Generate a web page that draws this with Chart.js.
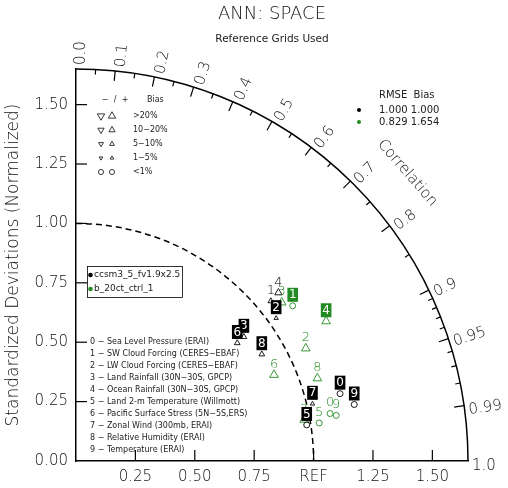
<!DOCTYPE html>
<html>
<head>
<meta charset="utf-8">
<script src="https://cdn.jsdelivr.net/npm/chart.js@4.4.1/dist/chart.umd.min.js"></script>
<style>
  html, body { margin: 0; padding: 0; background: #fff; }
  #wrap { width: 508px; height: 488px; }
</style>
</head>
<body>
<div id="wrap"><canvas id="taylor"></canvas></div>
<script>
// === Data ===
const caseNames = [
  'Sea Level Pressure (ERAI)',
  'SW Cloud Forcing (CERES-EBAF)',
  'LW Cloud Forcing (CERES-EBAF)',
  'Land Rainfall (30N-30S, GPCP)',
  'Ocean Rainfall (30N-30S, GPCP)',
  'Land 2-m Temperature (Willmott)',
  'Pacific Surface Stress (5N-5S,ERS)',
  'Zonal Wind (300mb, ERAI)',
  'Relative Humidity (ERAI)',
  'Temperature (ERAI)'
];
const modelNames = ['ccsm3_5_fv1.9x2.5', 'b_20ct_ctrl_1'];

// normalized std dev ratio, correlation, bias (%)
const ratioCcsm = [1.147, 1.061, 1.035, 0.879, 1.108, 0.983, 0.841, 1.024, 0.902, 1.195];
const corrCcsm  = [0.969, 0.773, 0.814, 0.804, 0.769, 0.988, 0.807, 0.972, 0.867, 0.980];
const biasCcsm  = [0.5, 7, 3, 6, 12, 0.5, 6, 3, 7, 0.5];

const ratioB20 = [1.088, 1.122, 1.077, 1.093, 1.206, 1.036, 0.909, 0.976, 1.074, 1.112];
const corrB20  = [0.983, 0.813, 0.898, 0.792, 0.873, 0.988, 0.917, 0.984, 0.946, 0.985];
const biasB20  = [0.5, 0.5, 25, 25, 25, 0.5, 25, 25, 25, 0.5];

const rmseVals = [1.000, 0.829];
const biasVals = [1.000, 1.654];

const xTicks = [0.25, 0.5, 0.75, 1.0, 1.25, 1.5];
const yTicks = [0, 0.25, 0.5, 0.75, 1.0, 1.25, 1.5];
const corrMajor = [0, 0.1, 0.2, 0.3, 0.4, 0.5, 0.6, 0.7, 0.8, 0.9, 0.95, 0.99, 1.0];
const corrMajorLabels = ['0.0', '0.1', '0.2', '0.3', '0.4', '0.5', '0.6', '0.7', '0.8', '0.9', '0.95', '0.99', '1.0'];
const corrMinor = [0.05, 0.15, 0.25, 0.35, 0.45, 0.55, 0.65, 0.75, 0.85, 0.91, 0.92, 0.93, 0.94, 0.96, 0.97, 0.98];
const biasClasses = ['>20%', '10-20%', '5-10%', '1-5%', '<1%'];
const sdMax = 1.65;

// which case numbers get a filled box behind them
const boxedCcsm = [0, 2, 3, 5, 6, 7, 8, 9];
const boxedB20 = [1, 4];

// === Styling ===
const FONT = "'DejaVu Sans', 'Liberation Sans', sans-serif";
const INK = '#111';
const SMALL = '#222';
const GREEN = '#228b22';

function markerRadius(b) {
  const a = Math.abs(b);
  if (a < 1) return 3;
  if (a < 5) return 2.5;
  if (a < 10) return 3.3;
  if (a < 20) return 4.2;
  return 5;
}

function toXY(ratio, corr) {
  return ratio.map((r, i) => ({ x: r * corr[i], y: r * Math.sqrt(1 - corr[i] * corr[i]) }));
}

function triangle(ctx, x, y, r, down) {
  const s = down ? -1 : 1;
  ctx.beginPath();
  for (let k = 0; k < 3; k++) {
    const a = k * 2 * Math.PI / 3;
    const px = x + Math.sin(a) * r;
    const py = y - s * Math.cos(a) * r;
    if (k === 0) ctx.moveTo(px, py); else ctx.lineTo(px, py);
  }
  ctx.closePath();
  ctx.stroke();
}

// === Taylor decorations plugin ===
const taylorPlugin = {
  id: 'taylor',
  afterDatasetsDraw(chart) {
    const ctx = chart.ctx;
    const sx = chart.scales.x, sy = chart.scales.y;
    const x0 = sx.getPixelForValue(0), y0 = sy.getPixelForValue(0);
    const unit = sx.getPixelForValue(1) - x0;
    const R = unit * sdMax;
    const area = chart.chartArea;

    ctx.save();
    ctx.strokeStyle = '#000';

    // inward axis ticks
    ctx.lineWidth = 1.2;
    xTicks.forEach(v => {
      const px = sx.getPixelForValue(v);
      ctx.beginPath(); ctx.moveTo(px, y0); ctx.lineTo(px, y0 - 11); ctx.stroke();
    });
    yTicks.slice(1).forEach(v => {
      const py = sy.getPixelForValue(v);
      ctx.beginPath(); ctx.moveTo(x0, py); ctx.lineTo(x0 + 11, py); ctx.stroke();
    });

    // outer correlation arc
    ctx.lineWidth = 1.5;
    ctx.beginPath();
    ctx.arc(x0, y0, R, -Math.PI / 2, 0);
    ctx.stroke();

    // REF dashed arc
    ctx.setLineDash([6, 4]);
    ctx.beginPath();
    ctx.arc(x0, y0, unit, -Math.PI / 2, 0);
    ctx.stroke();
    ctx.setLineDash([]);

    // correlation ticks
    ctx.lineWidth = 1.2;
    const tick = (c, len) => {
      const t = Math.acos(c);
      ctx.beginPath();
      ctx.moveTo(x0 + R * Math.cos(t), y0 - R * Math.sin(t));
      ctx.lineTo(x0 + (R - len) * Math.cos(t), y0 - (R - len) * Math.sin(t));
      ctx.stroke();
    };
    corrMajor.forEach(c => { if (c > 0 && c < 1) tick(c, 10); });
    corrMinor.forEach(c => tick(c, 5));

    // correlation labels
    ctx.fillStyle = INK;
    ctx.font = '200 15px ' + FONT;
    ctx.textAlign = 'left';
    ctx.textBaseline = 'middle';
    corrMajor.forEach((c, i) => {
      const t = Math.acos(c);
      ctx.save();
      ctx.translate(x0 + (R + 4) * Math.cos(t), y0 - (R + 4) * Math.sin(t));
      ctx.rotate(-t);
      ctx.fillText(corrMajorLabels[i], 0, 5);
      ctx.restore();
    });

    // "Correlation" title along the arc
    const tc = 41 * Math.PI / 180;
    ctx.save();
    ctx.translate(x0 + (R + 47) * Math.cos(tc), y0 - (R + 47) * Math.sin(tc));
    ctx.rotate(Math.PI / 2 - tc);
    ctx.textAlign = 'center';
    ctx.fillText('Correlation', 0, 0);
    ctx.restore();

    // title and subtitle
    const cx = (area.left + area.right) / 2;
    ctx.textAlign = 'center';
    ctx.font = '200 18px ' + FONT;
    ctx.fillText('ANN: SPACE', cx, 14);
    ctx.fillStyle = SMALL;
    ctx.font = '10.5px ' + FONT;
    ctx.fillText('Reference Grids Used', cx, 39);

    // bias legend (top left)
    ctx.font = '8px ' + FONT;
    ctx.textAlign = 'center';
    ctx.fillText('\u2212', 105, 100);
    ctx.fillText('/', 115, 100);
    ctx.fillText('+', 125, 100);
    ctx.textAlign = 'left';
    ctx.fillText('Bias', 147, 100);
    ctx.lineWidth = 0.9;
    ctx.strokeStyle = SMALL;
    const rowY = [116, 130, 144, 158, 172];
    const rowBias = [25, 15, 7, 3, 0.5];
    biasClasses.forEach((lab, i) => {
      const r = markerRadius(rowBias[i]) * 0.85;
      if (rowBias[i] < 1) {
        ctx.beginPath(); ctx.arc(101, rowY[i], r, 0, 2 * Math.PI); ctx.stroke();
        ctx.beginPath(); ctx.arc(112, rowY[i], r, 0, 2 * Math.PI); ctx.stroke();
      } else {
        triangle(ctx, 101, rowY[i], r, true);
        triangle(ctx, 112, rowY[i], r, false);
      }
      ctx.fillText(lab.replace('-', '\u2212'), 133, rowY[i]);
    });

    // RMSE / Bias legend (top right)
    ctx.font = '10px ' + FONT;
    ctx.fillText('RMSE  Bias', 379, 95);
    [0, 1].forEach(i => {
      const yy = 110 + i * 12;
      ctx.fillStyle = i === 0 ? '#000' : GREEN;
      ctx.beginPath(); ctx.arc(359, yy, 2, 0, 2 * Math.PI); ctx.fill();
      ctx.fillStyle = SMALL;
      ctx.fillText(rmseVals[i].toFixed(3) + ' ' + biasVals[i].toFixed(3), 379, yy);
    });

    // model legend box
    ctx.strokeStyle = '#000';
    ctx.lineWidth = 0.8;
    ctx.strokeRect(87.5, 266.5, 95, 31);
    ctx.font = '9px ' + FONT;
    modelNames.forEach((m, i) => {
      const yy = 275 + i * 14;
      ctx.fillStyle = i === 0 ? '#000' : GREEN;
      ctx.beginPath(); ctx.arc(90.5, yy, 2.3, 0, 2 * Math.PI); ctx.fill();
      ctx.fillStyle = SMALL;
      ctx.fillText(m, 94, yy);
    });

    // case list
    ctx.font = '8px ' + FONT;
    caseNames.forEach((n, i) => {
      ctx.fillText(i + ' \u2212 ' + n.replace(/(\d)N-(\d)/, '$1N\u2212$2').replace('CERES-', 'CERES\u2212'), 90, 341.7 + 12 * i);
    });

    // case numbers above markers (green first, black on top)
    ctx.textAlign = 'center';
    [1, 0].forEach(di => {
      const meta = chart.getDatasetMeta(di);
      const col = di === 0 ? '#000' : GREEN;
      const boxed = di === 0 ? boxedCcsm : boxedB20;
      meta.data.forEach((pt, i) => {
        const lx = pt.x, ly = pt.y - 11;
        const txt = String(i);
        if (boxed.includes(i)) {
          ctx.font = '12px ' + FONT;
          const w = ctx.measureText(txt).width;
          ctx.fillStyle = col;
          ctx.fillRect(lx - w / 2 - 1.5, ly - 7, w + 3, 14);
          ctx.fillStyle = '#fff';
        } else {
          ctx.font = '200 13px ' + FONT;
          ctx.fillStyle = col;
        }
        ctx.fillText(txt, lx, ly + 0.5);
      });
    });
    ctx.restore();
  }
};

const ptStyle = bias => bias.map(b => (Math.abs(b) < 1 ? 'circle' : 'triangle'));
const ptRot = bias => bias.map(b => (b < -1 ? 180 : 0));

new Chart(document.getElementById('taylor'), {
  type: 'scatter',
  data: {
    datasets: [
      {
        label: modelNames[0],
        data: toXY(ratioCcsm, corrCcsm),
        pointStyle: ptStyle(biasCcsm),
        rotation: ptRot(biasCcsm),
        pointRadius: biasCcsm.map(markerRadius),
        borderColor: '#000',
        backgroundColor: 'rgba(0,0,0,0)',
        borderWidth: 0.9
      },
      {
        label: modelNames[1],
        data: toXY(ratioB20, corrB20),
        pointStyle: ptStyle(biasB20),
        rotation: ptRot(biasB20),
        pointRadius: biasB20.map(markerRadius),
        borderColor: GREEN,
        backgroundColor: 'rgba(0,0,0,0)',
        borderWidth: 0.9
      }
    ]
  },
  options: {
    responsive: true,
    maintainAspectRatio: false,
    animation: false,
    layout: { padding: { left: 0, right: 40, top: 69, bottom: 0 } },
    plugins: { legend: { display: false }, tooltip: { enabled: false } },
    scales: {
      x: {
        type: 'linear', min: 0, max: sdMax,
        afterBuildTicks: s => { s.ticks = xTicks.map(v => ({ value: v })); },
        afterFit: s => { s.height = 27; },
        grid: { display: false, drawTicks: false },
        border: { display: true, color: '#000', width: 1.5 },
        ticks: {
          autoSkip: false, maxRotation: 0, padding: 7, color: INK,
          font: { family: FONT, size: 15, weight: '200' },
          callback: v => (v === 1 ? 'REF' : v.toFixed(2))
        }
      },
      y: {
        type: 'linear', min: 0, max: sdMax,
        afterBuildTicks: s => { s.ticks = yTicks.map(v => ({ value: v })); },
        afterFit: s => { s.width = 76; },
        grid: { display: false, drawTicks: false },
        border: { display: true, color: '#000', width: 1.5 },
        title: {
          display: true, text: 'Standardized Deviations (Normalized)', color: INK,
          font: { family: FONT, size: 17, weight: '200' }, padding: { top: 3, bottom: 0 }
        },
        ticks: {
          autoSkip: false, padding: 8, color: INK,
          font: { family: FONT, size: 15, weight: '200' },
          callback: v => v.toFixed(2)
        }
      }
    }
  },
  plugins: [taylorPlugin]
});
</script>
</body>
</html>
